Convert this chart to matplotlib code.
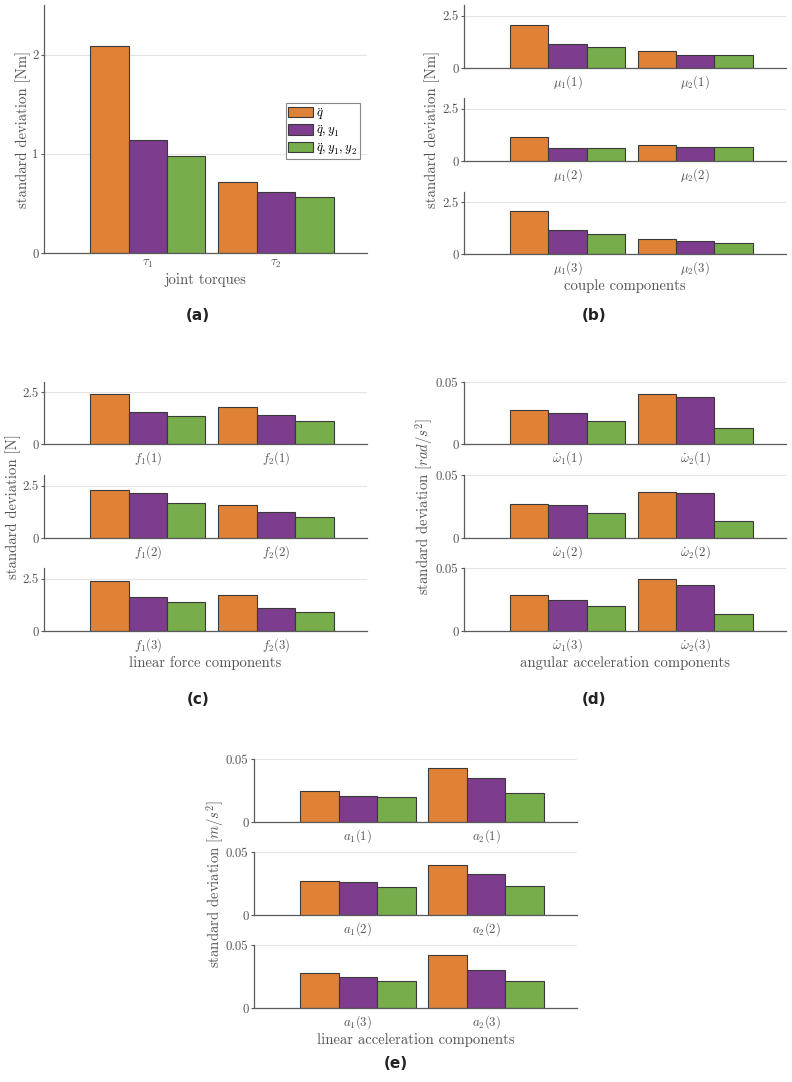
import matplotlib
matplotlib.use("Agg")
import matplotlib.pyplot as plt
import numpy as np

# --- data -------------------------------------------------------------
series_labels = ['$\\ddot{q}$', '$\\ddot{q}, y_1$', '$\\ddot{q}, y_1, y_2$']
colors = ['#DF8238', '#7E3C8E', '#77AD4A']

# (a) joint torques
torque_groups = ['$\\tau_1$', '$\\tau_2$']
torque_q = [2.09, 0.72]
torque_qy1 = [1.14, 0.61]
torque_qy1y2 = [0.98, 0.56]

# (b) couple components, rows = component (1), (2), (3)
couple_q = [[2.07, 0.83], [1.15, 0.75], [2.08, 0.71]]
couple_qy1 = [[1.12, 0.64], [0.62, 0.67], [1.14, 0.61]]
couple_qy1y2 = [[0.99, 0.64], [0.62, 0.65], [0.96, 0.54]]

# (c) linear force components
force_q = [[2.42, 1.81], [2.29, 1.56], [2.39, 1.72]]
force_qy1 = [[1.55, 1.41], [2.12, 1.24], [1.63, 1.11]]
force_qy1y2 = [[1.36, 1.09], [1.67, 1.01], [1.39, 0.91]]

# (d) angular acceleration components
angacc_q = [[0.0277, 0.0403], [0.0269, 0.0364], [0.0287, 0.0409]]
angacc_qy1 = [[0.0252, 0.0382], [0.0261, 0.0359], [0.0250, 0.0369]]
angacc_qy1y2 = [[0.0188, 0.0129], [0.0202, 0.0133], [0.0196, 0.0132]]

# (e) linear acceleration components
linacc_q = [[0.0247, 0.0426], [0.0270, 0.0394], [0.0274, 0.0420]]
linacc_qy1 = [[0.0210, 0.0348], [0.0259, 0.0328], [0.0245, 0.0300]]
linacc_qy1y2 = [[0.0195, 0.0234], [0.0225, 0.0230], [0.0218, 0.0218]]

# --- style ------------------------------------------------------------
plt.rcParams['font.family'] = 'serif'
plt.rcParams['font.serif'] = ['cmr10']
plt.rcParams['mathtext.fontset'] = 'cm'
plt.rcParams['axes.unicode_minus'] = False

W, H = 792, 1082
fig = plt.figure(figsize=(W / 100, H / 100), dpi=100)

TXT = '#555555'
SPINE = '#5a5a5a'
TICK_FS = 9.2
LAB_FS = 10.6


def add_ax(l, t, r, b):
    return fig.add_axes([l / W, 1 - b / H, (r - l) / W, (b - t) / H])


def bars(ax, groups, vals, ylim, yticks, yticklabels):
    x = np.arange(1, len(groups) + 1)
    w = 0.3
    for i, v in enumerate(vals):
        ax.bar(x + (i - 1) * w, v, w, color=colors[i], edgecolor='#3a3a3a',
               linewidth=0.8, label=series_labels[i], zorder=3)
    ax.set_xlim(0.19, 2.71)
    ax.set_ylim(*ylim)
    ax.set_xticks(x)
    ax.set_xticklabels(groups)
    ax.set_yticks(yticks)
    ax.set_yticklabels(yticklabels)
    ax.tick_params(axis='x', length=0, pad=3.5, labelsize=TICK_FS, colors=TXT)
    ax.tick_params(axis='y', length=2.5, width=0.8, pad=1.5, labelsize=TICK_FS,
                   colors=SPINE, labelcolor=TXT)
    ax.grid(axis='y', color='#e4e4e4', linewidth=0.8, zorder=0)
    for s in ['top', 'right']:
        ax.spines[s].set_visible(False)
    for s in ['left', 'bottom']:
        ax.spines[s].set_color(SPINE)
        ax.spines[s].set_linewidth(0.9)
    ax.spines['bottom'].set_zorder(4)


def ylab(x, yc, text):
    fig.text(x / W, 1 - yc / H, text, rotation=90, ha='center', va='center',
             fontsize=LAB_FS, color=TXT)


def stacked(l, r, rows, names, q, qy1, qy1y2, ylim, yt, ytl, xlabel, ylabel, ylab_x):
    axes = []
    for k, (t, b) in enumerate(rows):
        ax = add_ax(l, t, r, b)
        groups = ['$%s_1(%d)$' % (names, k + 1), '$%s_2(%d)$' % (names, k + 1)]
        bars(ax, groups, [q[k], qy1[k], qy1y2[k]], ylim, yt, ytl)
        axes.append(ax)
    axes[-1].set_xlabel(xlabel, fontsize=LAB_FS, color=TXT, labelpad=2)
    ylab(ylab_x, (rows[0][0] + rows[-1][1]) / 2, ylabel)
    return axes


# (a)
ax_a = add_ax(44, 5, 367, 253)
bars(ax_a, torque_groups, [torque_q, torque_qy1, torque_qy1y2], (0, 2.5), [0, 1, 2], ['0', '1', '2'])
ax_a.set_xlabel('joint torques', fontsize=LAB_FS, color=TXT, labelpad=2)
ylab(23, 129, 'standard deviation [Nm]')
leg = ax_a.legend(loc='upper right', bbox_to_anchor=(0.978, 0.605), fontsize=TICK_FS,
                  frameon=True, fancybox=False, edgecolor='#888888', framealpha=1,
                  handlelength=1.9, handleheight=0.9, handletextpad=0.3,
                  labelspacing=0.12, borderpad=0.2, borderaxespad=0)
leg.get_frame().set_linewidth(0.8)

rows_top = [(5, 68), (98, 161), (192, 254)]
rows_mid = [(382, 444), (475, 538), (568, 631)]
rows_bot = [(759, 822), (852, 915), (945, 1008)]

# (b)
stacked(464, 786, rows_top, '\\mu', couple_q, couple_qy1, couple_qy1y2,
        (0, 3), [0, 2.5], ['0', '2.5'], 'couple components',
        'standard deviation [Nm]', 432)
# (c)
stacked(44, 367, rows_mid, 'f', force_q, force_qy1, force_qy1y2,
        (0, 3), [0, 2.5], ['0', '2.5'], 'linear force components',
        'standard deviation [N]', 13)
# (d)
stacked(464, 786, rows_mid, '\\dot{\\omega}', angacc_q, angacc_qy1, angacc_qy1y2,
        (0, 0.05), [0, 0.05], ['0', '0.05'], 'angular acceleration components',
        'standard deviation $[rad/s^2]$', 424)
# (e)
stacked(254, 577, rows_bot, 'a', linacc_q, linacc_qy1, linacc_qy1y2,
        (0, 0.05), [0, 0.05], ['0', '0.05'], 'linear acceleration components',
        'standard deviation $[m/s^2]$', 215)

# panel letters
for lab, x, y in [('(a)', 198, 316), ('(b)', 594, 316), ('(c)', 198, 699),
                  ('(d)', 594, 699), ('(e)', 396, 1063)]:
    fig.text(x / W, 1 - y / H, lab, ha='center', va='center', fontsize=11,
             fontweight='bold', family='DejaVu Sans', color='#222222')

fig.savefig('out.png', dpi=100)
